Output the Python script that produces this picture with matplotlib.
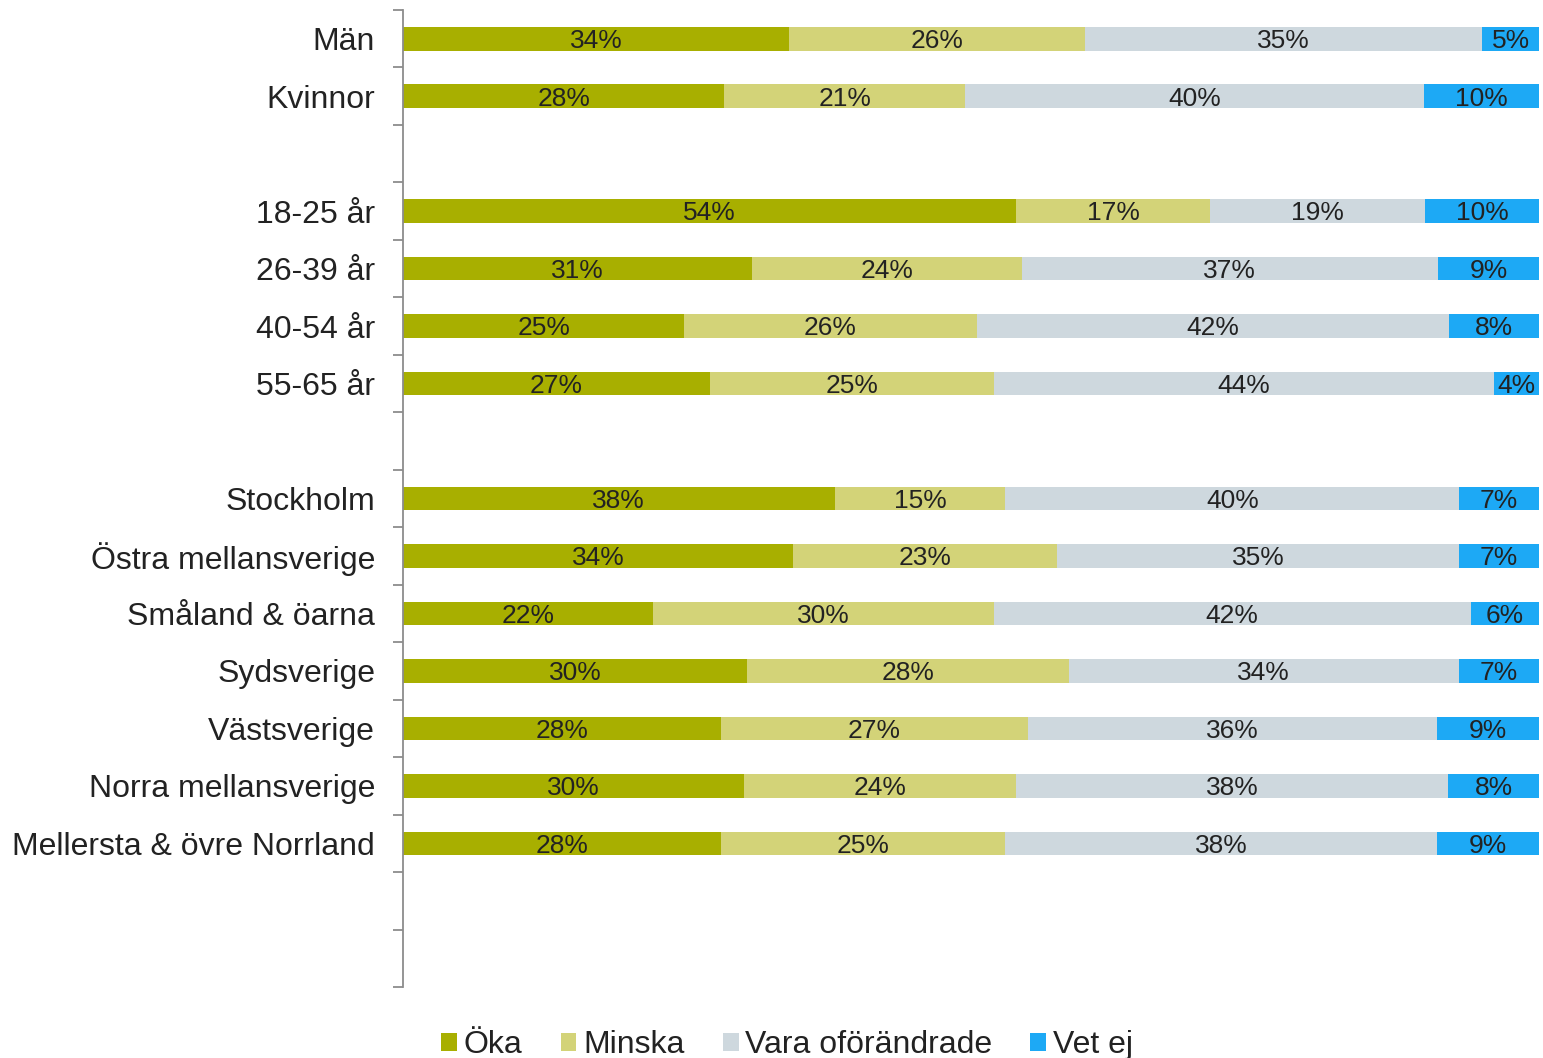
import matplotlib
matplotlib.use("Agg")
import matplotlib.pyplot as plt
from matplotlib.patches import Patch
import numpy as np

plt.rcParams["font.family"] = ["Liberation Sans", "DejaVu Sans"]

# rows (None = empty gap slot)
categories = ["Män", "Kvinnor", None,
              "18-25 år", "26-39 år", "40-54 år", "55-65 år", None,
              "Stockholm", "Östra mellansverige", "Småland & öarna", "Sydsverige",
              "Västsverige", "Norra mellansverige", "Mellersta & övre Norrland",
              None, None]

series_names = ["Öka", "Minska", "Vara oförändrade", "Vet ej"]
oka = [34, 28, None, 54, 31, 25, 27, None, 38, 34, 22, 30, 28, 30, 28, None, None]
minska = [26, 21, None, 17, 24, 26, 25, None, 15, 23, 30, 28, 27, 24, 25, None, None]
vara = [35, 40, None, 19, 37, 42, 44, None, 40, 35, 42, 34, 36, 38, 38, None, None]
vet_ej = [5, 10, None, 10, 9, 8, 4, None, 7, 7, 6, 7, 9, 8, 9, None, None]

colors = ["#A8AF00", "#D3D378", "#CED8DE", "#1DA9F5"]

fig = plt.figure(figsize=(15.43, 10.58), dpi=100)
ax = fig.add_axes([403 / 1543, 1 - 987 / 1058, 1136 / 1543, 977 / 1058])

n = len(categories)
series = [oka, minska, vara, vet_ej]
for i in range(n):
    if categories[i] is None:
        continue
    vals = [s[i] for s in series]
    total = sum(vals)
    left = 0.0
    for v, c in zip(vals, colors):
        w = v / total * 100
        ax.barh(i, w, left=left, height=0.41, color=c, edgecolor="none")
        ax.text(left + w / 2, i + 0.04, f"{v}%", ha="center", va="center",
                fontsize=19, color="#222222")
        left += w

ax.set_xlim(0, 100)
ax.set_ylim(n - 0.5, -0.5)
ax.set_xticks([])

centers = [i for i in range(n) if categories[i] is not None]
ax.set_yticks(centers)
ax.set_yticklabels([categories[i] for i in centers], fontsize=23, color="#222222")
ax.tick_params(axis="y", which="major", length=0, pad=20)
ax.set_yticks(np.arange(-0.5, n + 0.5, 1), minor=True)
ax.tick_params(axis="y", which="minor", length=7, width=1.3, color="#8c8c8c")

for side in ["top", "right", "bottom"]:
    ax.spines[side].set_visible(False)
ax.spines["left"].set_color("#8c8c8c")
ax.spines["left"].set_linewidth(1.3)

handles = [Patch(facecolor=c, edgecolor="none") for c in colors]
fig.legend(handles, series_names, loc="center", bbox_to_anchor=(0.51, 0.012),
           ncol=4, frameon=False, fontsize=23, handlelength=0.5, handleheight=0.5,
           handletextpad=0.2, columnspacing=1.2, labelcolor="#222222")

fig.savefig("out.png", dpi=100)
